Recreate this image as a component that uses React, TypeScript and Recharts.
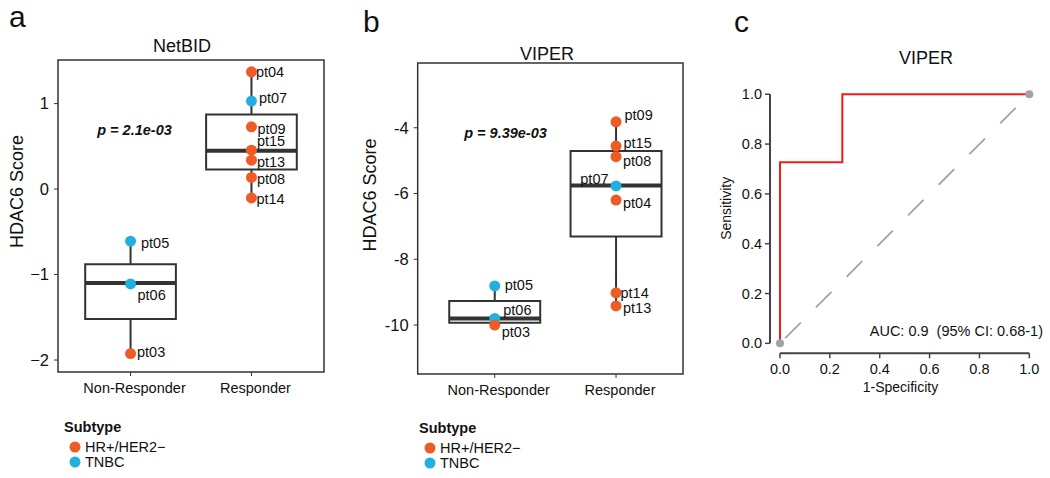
import React from "react";
import {
  ComposedChart,
  Scatter,
  Line,
  XAxis,
  YAxis,
  ReferenceArea,
  ReferenceLine,
} from "recharts";

const FONT = '"Liberation Sans", Arial, Helvetica, sans-serif';

// ---------- shared ----------
const groups = ["Non-Responder", "Responder"];
const subtypes = ["HR+/HER2−", "TNBC"];
const subtypeColors = ["#EF5A25", "#22B1DE"];

// ---------- panel a: NetBID ----------
const netbidIds = ["pt05", "pt06", "pt03", "pt04", "pt07", "pt09", "pt15", "pt13", "pt08", "pt14"];
const netbidGroups = ["Non-Responder", "Non-Responder", "Non-Responder", "Responder", "Responder", "Responder", "Responder", "Responder", "Responder", "Responder"];
const netbidSubtypes = ["TNBC", "TNBC", "HR+/HER2−", "HR+/HER2−", "TNBC", "HR+/HER2−", "HR+/HER2−", "HR+/HER2−", "HR+/HER2−", "HR+/HER2−"];
const netbidScores = [-0.61, -1.11, -1.925, 1.372, 1.029, 0.728, 0.455, 0.338, 0.136, -0.103];
// [lower whisker, Q1, median, Q3, upper whisker]
const netbidBoxNonResponder = [-1.925, -1.52, -1.1, -0.88, -0.61];
const netbidBoxResponder = [-0.103, 0.23, 0.447, 0.873, 1.372];
const netbidYTicks = [-2, -1, 0, 1];
const netbidYDomain = [-2.14, 1.51];
const netbidXDomain = [0.4, 2.6];
const netbidP = "p = 2.1e-03";

// ---------- panel b: VIPER ----------
const viperIds = ["pt05", "pt06", "pt03", "pt09", "pt15", "pt08", "pt07", "pt04", "pt14", "pt13"];
const viperGroups = ["Non-Responder", "Non-Responder", "Non-Responder", "Responder", "Responder", "Responder", "Responder", "Responder", "Responder", "Responder"];
const viperSubtypes = ["TNBC", "TNBC", "HR+/HER2−", "HR+/HER2−", "HR+/HER2−", "HR+/HER2−", "TNBC", "HR+/HER2−", "HR+/HER2−", "HR+/HER2−"];
const viperScores = [-8.81, -9.8, -10.0, -3.82, -4.557, -4.88, -5.77, -6.2, -9.02, -9.42];
const viperBoxNonResponder = [-10.0, -9.93, -9.8, -9.27, -8.81];
const viperBoxResponder = [-9.42, -7.31, -5.76, -4.71, -3.82];
const viperYTicks = [-10, -8, -6, -4];
const viperYDomain = [-11.49, -2.03];
const viperXDomain = [0.365, 2.552];
const viperP = "p = 9.39e-03";

// ---------- panel c: ROC ----------
const rocFpr = [0, 0, 0.25, 0.25, 1];
const rocTpr = [0, 0.727, 0.727, 1, 1];
const chanceFpr = [0, 1];
const chanceTpr = [0, 1];
const rocTicks = [0, 0.2, 0.4, 0.6, 0.8, 1];
const rocDomain = [-0.04, 1.04];
const aucText = "AUC: 0.9  (95% CI: 0.68-1)";

// ---------- label placement (style, not data): [dx, dy, anchor] ----------
const netbidLabelPlacement: Record<string, [number, number, string]> = {
  pt05: [10.5, 1.5, "start"],
  pt06: [7, 11, "start"],
  pt03: [6.5, -1.5, "start"],
  pt04: [4.5, 0, "start"],
  pt07: [7.5, -3, "start"],
  pt09: [6, 1.5, "start"],
  pt15: [5.5, -9, "start"],
  pt13: [5.5, 2, "start"],
  pt08: [5.5, 1, "start"],
  pt14: [5, 0.5, "start"],
};
const viperLabelPlacement: Record<string, [number, number, string]> = {
  pt05: [10, -1, "start"],
  pt06: [8.5, -9, "start"],
  pt03: [7, 7, "start"],
  pt09: [8.5, -7, "start"],
  pt15: [7.5, -3, "start"],
  pt08: [7, 4, "start"],
  pt07: [-7.5, -7, "end"],
  pt04: [7, 3, "start"],
  pt14: [4.5, 0, "start"],
  pt13: [7, 2, "start"],
};

const buildPoints = (ids: string[], grp: string[], sub: string[], vals: number[]) =>
  ids.map((id, i) => ({
    id,
    x: groups.indexOf(grp[i]) + 1,
    y: vals[i],
    color: subtypeColors[subtypes.indexOf(sub[i])],
  }));

const netbidPoints = buildPoints(netbidIds, netbidGroups, netbidSubtypes, netbidScores);
const viperPoints = buildPoints(viperIds, viperGroups, viperSubtypes, viperScores);

const rocData = rocFpr.map((f, i) => ({ fpr: f, tpr: rocTpr[i] }));
const chanceData = chanceFpr.map((f, i) => ({ fpr: f, tpr: chanceTpr[i] }));

const BOX_HALF = 0.375;
const INK = "#333333";

const renderBox = (pos: number, s: number[], key: string) => [
  <ReferenceLine
    key={key + "-wl"}
    segment={[{ x: pos, y: s[0] }, { x: pos, y: s[1] }]}
    stroke={INK}
    strokeWidth={2}
    ifOverflow="visible"
  />,
  <ReferenceLine
    key={key + "-wh"}
    segment={[{ x: pos, y: s[3] }, { x: pos, y: s[4] }]}
    stroke={INK}
    strokeWidth={2}
    ifOverflow="visible"
  />,
  <ReferenceArea
    key={key + "-box"}
    x1={pos - BOX_HALF}
    x2={pos + BOX_HALF}
    y1={s[1]}
    y2={s[3]}
    fill="none"
    stroke={INK}
    strokeWidth={2}
    ifOverflow="visible"
  />,
  <ReferenceLine
    key={key + "-med"}
    segment={[{ x: pos - BOX_HALF, y: s[2] }, { x: pos + BOX_HALF, y: s[2] }]}
    stroke={INK}
    strokeWidth={4}
    ifOverflow="visible"
  />,
];

const dotShape = (props: any) => {
  const { cx, cy, payload } = props;
  if (cx == null || cy == null) return <g />;
  return <circle cx={cx} cy={cy} r={5.5} fill={payload.color} />;
};

const labelShape = (placement: Record<string, [number, number, string]>) => (props: any) => {
  const { cx, cy, payload } = props;
  if (cx == null || cy == null) return <g />;
  const pl = placement[payload.id] || [6, 0, "start"];
  return (
    <text
      x={cx + pl[0]}
      y={cy + pl[1]}
      dy="0.36em"
      textAnchor={pl[2] as any}
      fontSize={14.5}
      fill="#111"
      fontFamily={FONT}
    >
      {payload.id}
    </text>
  );
};

type BoxPanelProps = {
  margin: { top: number; right: number; bottom: number; left: number };
  yWidth: number;
  xDomain: number[];
  yDomain: number[];
  yTicks: number[];
  yFmt: (v: number) => string;
  boxes: number[][];
  points: any[];
  placement: Record<string, [number, number, string]>;
};

const BoxPanel = (p: BoxPanelProps) => (
  <div style={{ position: "absolute", left: 0, top: 0 }}>
    <ComposedChart width={1050} height={478} margin={p.margin}>
      <XAxis
        type="number"
        dataKey="x"
        domain={p.xDomain}
        ticks={[1, 2]}
        interval={0}
        allowDataOverflow
        axisLine={false}
        tickLine={{ stroke: INK, strokeWidth: 1 }}
        tickSize={4}
        tickMargin={7}
        height={30}
        tickFormatter={(v: number) => groups[v - 1]}
        tick={{ fill: "#111", fontSize: 14.5, fontFamily: FONT, dx: 4 }}
      />
      <YAxis
        type="number"
        dataKey="y"
        domain={p.yDomain}
        ticks={p.yTicks}
        interval={0}
        allowDataOverflow
        axisLine={false}
        tickLine={{ stroke: INK, strokeWidth: 1 }}
        tickSize={4}
        tickMargin={5}
        width={p.yWidth}
        tickFormatter={p.yFmt}
        tick={{ fill: "#111", fontSize: 16.5, fontFamily: FONT }}
      />
      <ReferenceArea
        x1={p.xDomain[0]}
        x2={p.xDomain[1]}
        y1={p.yDomain[0]}
        y2={p.yDomain[1]}
        fill="none"
        stroke={INK}
        strokeWidth={1.5}
        ifOverflow="visible"
      />
      {renderBox(1, p.boxes[0], "nr")}
      {renderBox(2, p.boxes[1], "r")}
      <Scatter
        data={p.points}
        dataKey="y"
        isAnimationActive={false}
        shape={dotShape}
        zIndex={1500}
      />
      <Scatter
        data={p.points}
        dataKey="y"
        isAnimationActive={false}
        shape={labelShape(p.placement)}
        zIndex={1600}
      />
    </ComposedChart>
  </div>
);

const minusFmt = (v: number) => (v < 0 ? "−" + Math.abs(v) : String(v));

const Legend = ({ x, y }: { x: number; y: number }) => (
  <g fontFamily={FONT}>
    <text x={x} y={y} fontSize={14.5} fontWeight="bold" fill="#111">
      Subtype
    </text>
    {subtypes.map((s, i) => (
      <g key={s}>
        <circle cx={x + 11} cy={y + 15 + i * 15} r={5.5} fill={subtypeColors[i]} />
        <text x={x + 21} y={y + 20 + i * 15} fontSize={14.5} fill="#111">
          {s}
        </text>
      </g>
    ))}
  </g>
);

export default function App() {
  return (
    <div
      style={{
        position: "absolute",
        left: 0,
        top: 0,
        width: 1050,
        height: 478,
        background: "#fff",
        fontFamily: FONT,
        overflow: "hidden",
      }}
    >
      <BoxPanel
        margin={{ top: 60, right: 726, bottom: 76, left: 0 }}
        yWidth={58}
        xDomain={netbidXDomain}
        yDomain={netbidYDomain}
        yTicks={netbidYTicks}
        yFmt={minusFmt}
        boxes={[netbidBoxNonResponder, netbidBoxResponder]}
        points={netbidPoints}
        placement={netbidLabelPlacement}
      />
      <BoxPanel
        margin={{ top: 63, right: 367, bottom: 74, left: 360 }}
        yWidth={57.7}
        xDomain={viperXDomain}
        yDomain={viperYDomain}
        yTicks={viperYTicks}
        yFmt={(v: number) => String(v)}
        boxes={[viperBoxNonResponder, viperBoxResponder]}
        points={viperPoints}
        placement={viperLabelPlacement}
      />
      <div style={{ position: "absolute", left: 0, top: 0 }}>
        <ComposedChart width={1050} height={478} margin={{ top: 84.3, right: 10.7, bottom: 84.7, left: 730 }}>
          <XAxis
            type="number"
            dataKey="fpr"
            domain={rocDomain}
            ticks={rocTicks}
            interval={0}
            allowDataOverflow
            axisLine={false}
            tickLine={{ stroke: "#444", strokeWidth: 1.5 }}
            tickSize={5}
            tickMargin={5}
            height={40}
            tickFormatter={(v: number) => v.toFixed(1)}
            tick={{ fill: "#111", fontSize: 14.5, fontFamily: FONT }}
          />
          <YAxis
            type="number"
            dataKey="tpr"
            domain={rocDomain}
            ticks={rocTicks}
            interval={0}
            allowDataOverflow
            axisLine={false}
            tickLine={{ stroke: "#444", strokeWidth: 1.5 }}
            tickSize={5}
            tickMargin={3}
            width={40}
            tickFormatter={(v: number) => v.toFixed(1)}
            tick={{ fill: "#111", fontSize: 14.5, fontFamily: FONT }}
          />
          <ReferenceLine
            segment={[
              { x: rocTicks[0], y: rocDomain[0] },
              { x: rocTicks[rocTicks.length - 1], y: rocDomain[0] },
            ]}
            stroke="#444"
            strokeWidth={2}
            ifOverflow="visible"
          />
          <ReferenceLine
            segment={[
              { x: rocDomain[0], y: rocTicks[0] },
              { x: rocDomain[0], y: rocTicks[rocTicks.length - 1] },
            ]}
            stroke="#444"
            strokeWidth={2}
            ifOverflow="visible"
          />
          <Line
            data={chanceData}
            dataKey="tpr"
            type="linear"
            stroke="#A3A3A3"
            strokeWidth={1.8}
            strokeDasharray="22 21.4"
            strokeDashoffset={36}
            dot={false}
            activeDot={false}
            isAnimationActive={false}
          />
          <Line
            data={rocData}
            dataKey="tpr"
            type="linear"
            stroke="#F21C1C"
            strokeWidth={2}
            dot={false}
            activeDot={false}
            isAnimationActive={false}
          />
          <Scatter
            data={chanceData}
            dataKey="tpr"
            fill="#A3A3A3"
            isAnimationActive={false}
            shape={(props: any) => <circle cx={props.cx} cy={props.cy} r={4} fill="#A3A3A3" />}
          />
        </ComposedChart>
      </div>
      <svg
        width={1050}
        height={478}
        style={{ position: "absolute", left: 0, top: 0, pointerEvents: "none" }}
        fontFamily={FONT}
      >
        <text x={9} y={27} fontSize={30} fill="#111">a</text>
        <text x={363} y={32} fontSize={30} fill="#111">b</text>
        <text x={734} y={32} fontSize={30} fill="#111">c</text>

        <text x={182} y={52} fontSize={18} textAnchor="middle" fill="#111">NetBID</text>
        <text x={547} y={60} fontSize={18} textAnchor="middle" fill="#111">VIPER</text>
        <text x={926} y={64} fontSize={18} textAnchor="middle" fill="#111">VIPER</text>

        <text transform="translate(22.7,191.5) rotate(-90)" fontSize={18} textAnchor="middle" fill="#111">HDAC6 Score</text>
        <text transform="translate(376,195) rotate(-90)" fontSize={18} textAnchor="middle" fill="#111">HDAC6 Score</text>
        <text transform="translate(730.5,208.3) rotate(-90)" fontSize={14} textAnchor="middle" fill="#111">Sensitivity</text>
        <text x={900.5} y={392} fontSize={14} textAnchor="middle" fill="#111">1-Specificity</text>

        <text x={134.5} y={135} fontSize={14.5} fontWeight="bold" fontStyle="italic" textAnchor="middle" fill="#111">{netbidP}</text>
        <text x={505.5} y={138} fontSize={14.5} fontWeight="bold" fontStyle="italic" textAnchor="middle" fill="#111">{viperP}</text>
        <text x={1043} y={336} fontSize={14.5} textAnchor="end" fill="#111" style={{ whiteSpace: "pre" }}>{aucText}</text>

        <Legend x={64} y={432} />
        <Legend x={419} y={433} />
      </svg>
    </div>
  );
}
